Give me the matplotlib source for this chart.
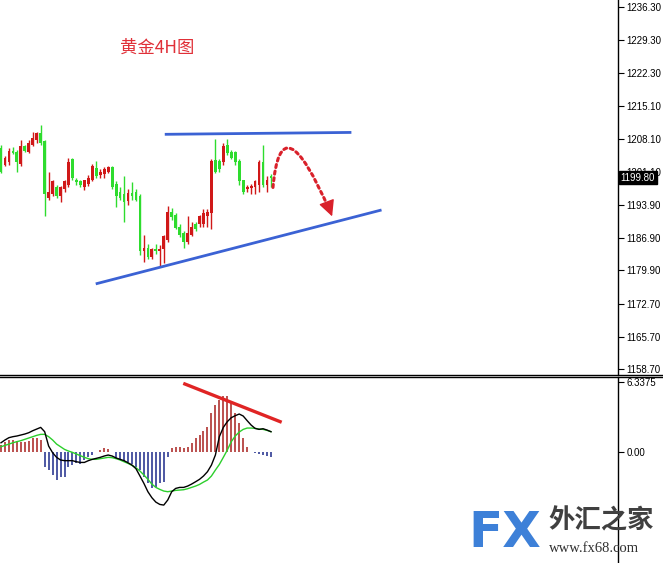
import matplotlib
matplotlib.use('Agg')
import matplotlib.pyplot as plt
from matplotlib.lines import Line2D
from matplotlib.transforms import blended_transform_factory

plt.rcParams['font.family'] = ['Liberation Sans', 'DejaVu Sans']

# 4H candles (red = up, green = down)
opens = [1206.1, 1202.6, 1203.1, 1205.6, 1205.4, 1202.8, 1206.5, 1205.4, 1206.9, 1207.8,
         1209.3, 1207.6, 1195.5, 1196.2, 1197.7, 1195.8, 1197.3, 1198.3, 1203.7, 1199.4,
         1199.0, 1197.9, 1198.5, 1199.4, 1201.8, 1200.3, 1200.5, 1201.1, 1202.0, 1198.5,
         1196.8, 1196.2, 1194.7, 1196.6, 1196.8, 1195.8, 1184.0, 1184.8, 1182.7, 1184.6,
         1184.0, 1184.4, 1186.5, 1192.5, 1191.9, 1189.3, 1188.0, 1185.9, 1187.6, 1189.8,
         1189.8, 1189.8, 1191.5, 1192.3, 1203.5, 1203.3, 1203.1, 1206.7, 1205.4, 1205.2,
         1203.3, 1199.2, 1197.3, 1197.5, 1197.7, 1198.3, 1203.1, 1198.3, 1200.1]
highs = [1206.7, 1204.5, 1206.1, 1206.3, 1205.8, 1207.8, 1206.9, 1207.8, 1209.5, 1209.7,
         1211.0, 1207.8, 1201.1, 1199.4, 1198.3, 1198.1, 1199.4, 1204.1, 1204.1, 1199.8,
         1199.4, 1199.4, 1200.3, 1202.8, 1203.3, 1201.6, 1202.0, 1202.4, 1202.2, 1199.0,
         1197.7, 1200.1, 1197.3, 1198.8, 1197.3, 1196.2, 1187.6, 1185.5, 1184.8, 1185.5,
         1185.3, 1187.6, 1193.8, 1193.4, 1192.3, 1189.8, 1188.4, 1191.5, 1190.2, 1190.2,
         1191.9, 1193.0, 1193.0, 1203.7, 1208.0, 1203.7, 1207.3, 1208.0, 1205.8, 1205.6,
         1203.7, 1199.4, 1198.3, 1198.5, 1199.4, 1203.5, 1206.9, 1200.1, 1200.5]
lows = [1200.7, 1202.2, 1202.6, 1204.8, 1201.1, 1202.2, 1205.2, 1205.0, 1206.5, 1207.3,
        1206.9, 1191.5, 1195.1, 1195.8, 1195.5, 1194.5, 1196.8, 1197.9, 1199.4, 1198.3,
        1197.9, 1197.1, 1198.1, 1199.0, 1199.8, 1199.8, 1199.8, 1200.7, 1197.3, 1193.6,
        1195.1, 1190.2, 1194.0, 1195.1, 1194.7, 1183.3, 1181.8, 1182.3, 1182.3, 1183.5,
        1180.8, 1181.6, 1186.1, 1190.8, 1188.7, 1187.0, 1184.8, 1185.5, 1187.2, 1188.3,
        1189.3, 1189.3, 1189.3, 1188.7, 1200.7, 1201.1, 1202.6, 1204.6, 1203.7, 1202.6,
        1198.3, 1196.4, 1196.8, 1196.2, 1196.2, 1196.8, 1197.7, 1196.8, 1197.9]
closes = [1201.1, 1204.1, 1205.6, 1205.0, 1203.1, 1206.5, 1205.6, 1207.3, 1208.4, 1209.3,
          1207.3, 1196.2, 1196.8, 1199.0, 1195.8, 1197.7, 1199.0, 1203.1, 1199.8, 1198.8,
          1198.3, 1199.2, 1199.8, 1202.4, 1200.1, 1201.1, 1201.6, 1202.0, 1197.7, 1195.8,
          1195.5, 1194.5, 1196.6, 1195.8, 1195.1, 1184.0, 1184.8, 1182.7, 1184.4, 1184.0,
          1184.4, 1187.2, 1192.5, 1191.3, 1189.1, 1187.6, 1186.1, 1188.0, 1189.3, 1188.7,
          1191.5, 1192.3, 1192.5, 1203.3, 1201.1, 1201.6, 1206.5, 1205.0, 1204.1, 1203.1,
          1199.0, 1196.8, 1197.9, 1198.1, 1199.0, 1203.1, 1198.3, 1199.4, 1199.8]

# MACD sub window
macd_hist = [0.60, 0.90, 1.05, 1.10, 1.00, 0.90, 0.90, 1.00, 1.20, 1.20, 1.05,
             -1.36, -1.66, -2.11, -2.56, -2.26, -2.32, -1.36, -1.21, -1.06, -1.12, -0.75, -0.51, -0.30,
             0.0, 0.15, 0.30, 0.20, 0.0,
             -0.60, -0.75, -0.90, -0.90, -1.12, -1.36, -1.66, -2.26, -2.87, -3.32, -3.17, -2.87, -2.72, -0.51,
             0.30, 0.45, 0.40, 0.30, 0.45, 0.81, 1.21, 1.51, 1.87, 2.26, 3.53, 4.22, 4.68, 5.04, 5.04,
             4.53, 3.47, 2.56, 1.21, 0.45,
             0.0, -0.15, -0.21, -0.30, -0.39, -0.45]
macd_line = [0.81, 1.06, 1.27, 1.36, 1.42, 1.51, 1.60, 1.72, 1.90, 2.05, 2.20, 1.81, 0.51, -0.09,
             -0.51, -0.75, -0.81, -0.81, -0.81, -0.91, -0.97, -0.97, -0.81, -0.69, -0.60, -0.51,
             -0.39, -0.30, -0.39, -0.57, -0.69, -0.81, -1.00, -1.21, -1.54, -2.20, -2.87, -3.62,
             -4.16, -4.56, -4.77, -4.83, -4.37, -3.62, -3.32, -3.23, -3.23, -3.11, -2.93, -2.72,
             -2.50, -2.20, -1.81, -1.21, -0.30, 1.36, 2.20, 2.72, 3.08, 3.26, 3.41, 3.23, 2.81,
             2.41, 2.11, 2.02, 2.08, 1.96, 1.81]
signal_line = [0.45, 0.57, 0.69, 0.81, 0.91, 1.00, 1.12, 1.24, 1.36, 1.48, 1.57, 1.57, 1.36, 1.06,
               0.69, 0.45, 0.21, 0.06, -0.06, -0.21, -0.36, -0.51, -0.63, -0.69, -0.69, -0.63,
               -0.57, -0.51, -0.54, -0.63, -0.75, -0.91, -1.06, -1.24, -1.45, -1.75, -2.11, -2.50,
               -2.93, -3.23, -3.41, -3.56, -3.62, -3.56, -3.50, -3.47, -3.44, -3.35, -3.23, -3.11,
               -2.96, -2.75, -2.56, -2.20, -1.66, -1.15, -0.51, 0.15, 0.91, 1.42, 1.78, 2.02, 2.14,
               2.14, 2.11, 2.05, 2.02, 1.93, 1.81]

price_ticks = [1236.30, 1229.30, 1222.30, 1215.10, 1208.10, 1201.10, 1193.90,
               1186.90, 1179.90, 1172.70, 1165.70, 1158.70]
macd_ticks = [6.3375, 0.0]
macd_tick_labels = ['6.3375', '0.00']
last_price = 1199.80

# hand drawn analysis lines: (bar index, value)
resist_line = [(41.6, 1209.1), (87.9, 1209.5)]
support_line = [(24.2, 1177.1), (95.5, 1192.8)]
forecast_arrow = [(68.5, 1197.7), (83.4, 1191.5)]
arrow_head_from = (83.0, 1192.4)
macd_div_line = [(46.3, 6.13), (70.3, 2.72)]

UP = '#d01818'
DOWN = '#2edc2e'
W, H = 663, 563

fig = plt.figure(figsize=(W / 100, H / 100), dpi=100)
fig.patch.set_facecolor('white')

ax = fig.add_axes([0, (H - 374) / H, 618 / W, 374 / H])
ax2 = fig.add_axes([0, 0, 618 / W, (H - 377) / H])

xlim = (-0.25, 155.4)
n = len(opens)
xs = list(range(n))

# candles
for i in xs:
    o, h, l, c = opens[i], highs[i], lows[i], closes[i]
    col = UP if c >= o else DOWN
    ax.vlines(i, l, h, color=col, linewidth=1.0, zorder=2)
    body = max(abs(c - o), 0.3)
    ax.bar(i, body, bottom=min(o, c), width=0.7, color=col, linewidth=0, zorder=3)

ax.set_xlim(*xlim)
ax.set_ylim(1157.7, 1237.9)

# trend lines
ax.plot([p[0] for p in resist_line], [p[1] for p in resist_line], color='#3b62d4', lw=2.0, zorder=4)
ax.plot([p[0] for p in support_line], [p[1] for p in support_line], color='#3b62d4', lw=2.0, zorder=4)

# dotted forecast arc + solid head
ax.annotate('', xy=forecast_arrow[1], xytext=forecast_arrow[0],
            arrowprops=dict(arrowstyle='-', color='#d9202a', lw=2.2, linestyle=(0, (1, 1.2)),
                            shrinkA=0, shrinkB=4,
                            connectionstyle='angle3,angleA=85,angleB=113'),
            zorder=5)
ax.annotate('', xy=forecast_arrow[1], xytext=arrow_head_from,
            arrowprops=dict(arrowstyle='-|>,head_length=0.7,head_width=0.35', color='#d9202a',
                            lw=1.0, mutation_scale=14, shrinkA=0, shrinkB=0),
            zorder=5)

ax.text(120 / 618, 1 - 48 / 374, '黄金4H图', transform=ax.transAxes, color='#e03038',
        fontsize=12.5, va='center', ha='left',
        family=['Noto Sans CJK SC', 'DejaVu Sans'])

# axis styling
for a in (ax, ax2):
    for s in ('top', 'left', 'bottom'):
        a.spines[s].set_visible(False)
    a.spines['right'].set_color('black')
    a.spines['right'].set_linewidth(1.0)
    a.set_xticks([])
    a.yaxis.tick_right()
    a.tick_params(axis='y', length=4, width=0.8, pad=2, labelsize=7, colors='black')
    a.set_facecolor('white')

ax.set_yticks(price_ticks)
ax.set_yticklabels([f'{t:.2f}' for t in price_ticks])

tr = blended_transform_factory(ax.transAxes, ax.transData)
ax.text(1.004, last_price, f'{last_price:.2f}', transform=tr, color='white', fontsize=7,
        va='center', ha='left', zorder=10, clip_on=False,
        bbox=dict(boxstyle='square,pad=0.18', facecolor='black', edgecolor='black'))

# MACD panel
hist_cols = ['#a8201e' if v >= 0 else '#1c2a8a' for v in macd_hist]
ax2.vlines(xs, 0, macd_hist, colors=hist_cols, linewidth=1.1, zorder=2)
ax2.plot(xs, signal_line, color='#2ccf2c', lw=1.0, zorder=3)
ax2.plot(xs, macd_line, color='black', lw=1.0, zorder=4)
ax2.plot([p[0] for p in macd_div_line], [p[1] for p in macd_div_line], color='#e02424', lw=2.4, zorder=5)
ax2.set_xlim(*xlim)
ax2.set_ylim(-10.07, 6.76)
ax2.set_yticks(macd_ticks)
ax2.set_yticklabels(macd_tick_labels)

# double separator between windows
for yy in (374.5, 376.5):
    fig.add_artist(Line2D([0, 1], [1 - yy / H, 1 - yy / H], color='black', lw=1.0,
                          transform=fig.transFigure))

# watermark
fig.text(468 / W, 1 - 557 / H, 'FX', color='#3d80d8', fontsize=36, fontweight='bold',
         family='DejaVu Sans', ha='left', va='bottom')
fig.text(548 / W, 1 - 521 / H, '外汇之家', color='#404040', fontsize=19, fontweight='bold',
         family=['Noto Sans CJK SC', 'DejaVu Sans'], ha='left', va='center')
fig.text(549 / W, 1 - 548 / H, 'www.fx68.com', color='#303030', fontsize=10.5,
         family='Liberation Serif', ha='left', va='center')

fig.savefig('out.png', dpi=100, facecolor='white')
